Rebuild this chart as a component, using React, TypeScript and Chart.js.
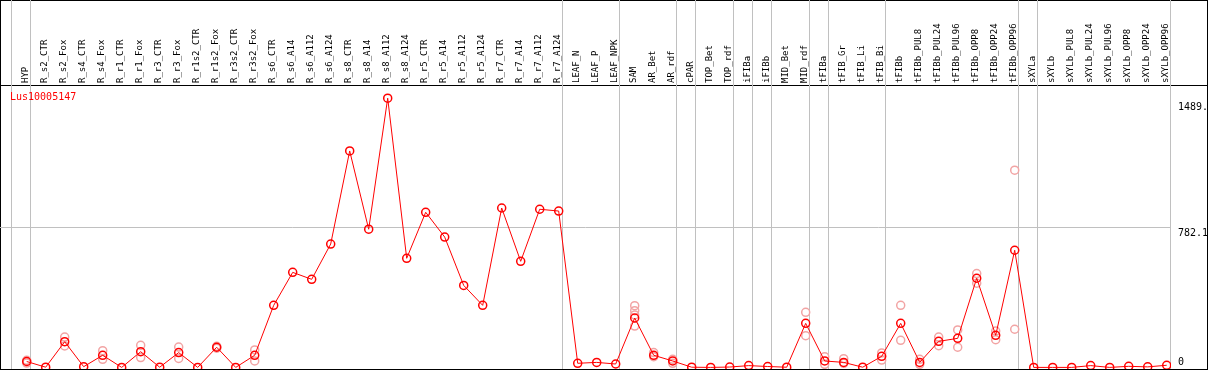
import React, { useEffect, useRef } from "react";
import { Chart, registerables } from "chart.js";

Chart.register(...registerables);

const GENE_ID = "Lus10005147";

const CATEGORIES = [
  "HYP", "R_s2_CTR", "R_s2_Fox", "R_s4_CTR", "R_s4_Fox", "R_r1_CTR", "R_r1_Fox", "R_r3_CTR", "R_r3_Fox",
  "R_r1s2_CTR", "R_r1s2_Fox", "R_r3s2_CTR", "R_r3s2_Fox", "R_s6_CTR", "R_s6_A14", "R_s6_A112", "R_s6_A124",
  "R_s8_CTR", "R_s8_A14", "R_s8_A112", "R_s8_A124", "R_r5_CTR", "R_r5_A14", "R_r5_A112", "R_r5_A124",
  "R_r7_CTR", "R_r7_A14", "R_r7_A112", "R_r7_A124", "LEAF_N", "LEAF_P", "LEAF_NPK", "SAM", "AR_Bet", "AR_rdf",
  "cPAR", "TOP_Bet", "TOP_rdf", "iFIBa", "iFIBb", "MID_Bet", "MID_rdf", "tFIBa", "tFIB_Gr", "tFIB_Li", "tFIB_Bi",
  "tFIBb", "tFIBb_PUL8", "tFIBb_PUL24", "tFIBb_PUL96", "tFIBb_OPP8", "tFIBb_OPP24", "tFIBb_OPP96",
  "sXYLa", "sXYLb", "sXYLb_PUL8", "sXYLb_PUL24", "sXYLb_PUL96", "sXYLb_OPP8", "sXYLb_OPP24", "sXYLb_OPP96",
];

const MEAN_VALUES = [
  33, 1, 144, 4, 68, 0, 88, 1, 83, 0, 113, 0, 68, 348, 533, 494, 692, 1214, 775, 1510, 612, 870, 731, 460, 348,
  894, 595, 887, 877, 23, 28, 19, 277, 68, 36, 1, 0, 2, 10, 5, 1, 247, 36, 28, 1, 62, 247, 28, 146, 163, 500,
  180, 657, 0, 0, 0, 10, 0, 6, 3, 12,
];

const REPLICATE_1 = [
  40, null, 170, null, 94, null, 124, null, 114, null, 118, null, 98, null, null, null, null, null, null, null,
  null, null, null, null, null, null, null, null, null, null, null, null, 346, 83, 45, null, null, null, null,
  null, null, 309, 60, 49, null, 81, 348, 45, 170, 210, 526, 204, 1106, null, null, null, null, null, null, null, null,
];

const REPLICATE_2 = [
  24, null, 120, null, 45, null, 55, null, 50, null, 108, null, 36, null, null, null, null, null, null, null,
  null, null, null, null, null, null, null, null, null, null, null, null, 232, 60, 23, null, null, null, null,
  null, null, 178, 17, 23, null, 41, 152, 17, 122, 113, 472, 155, 214, null, null, null, null, null, null, null, null,
];

const REPLICATE_3 = CATEGORIES.map((c) => (c === "SAM" ? 318 : null));
const REPLICATE_4 = CATEGORIES.map((c) => (c === "SAM" ? 294 : null));

const GROUP_BOUNDARIES = [-0.8, 0.2, 28.2, 31.2, 34.2, 35.2, 37.2, 38.2, 39.2, 41.2, 42.2, 45.2, 52.2, 53.2, 60.2];

const Y_TICKS = [0, 782.1, 1489];
const Y_TICK_LABELS = ["0", "782.1", "1489."];

const X_MIN = -1.405;
const X_MAX = 60.226;
const Y_MIN = -9;
const Y_MAX = 1584;

const MONO = "'DejaVu Sans Mono', monospace";

const zeroPad = (s: any) => {
  s.paddingLeft = 0;
  s.paddingRight = 0;
  s.paddingTop = 0;
  s.paddingBottom = 0;
};

export default function App() {
  const ref = useRef<HTMLCanvasElement | null>(null);

  useEffect(() => {
    const canvas = ref.current;
    if (!canvas) return;
    const toPoints = (arr: (number | null)[]) =>
      arr.map((v, i) => (v == null ? null : { x: i, y: v })).filter((p) => p !== null);

    const repStyle = {
      showLine: false,
      pointRadius: 4,
      pointBorderWidth: 1.5,
      pointBorderColor: "#f2a4a4",
      pointBackgroundColor: "rgba(0,0,0,0)",
      borderColor: "#f2a4a4",
      xAxisID: "x",
      yAxisID: "y",
    };

    const chart = new Chart(canvas, {
      type: "line",
      data: {
        datasets: [
          {
            label: GENE_ID,
            data: toPoints(MEAN_VALUES),
            borderColor: "#ff0000",
            borderWidth: 1,
            pointRadius: 4,
            pointBorderWidth: 1.5,
            pointBorderColor: "#ff0000",
            pointBackgroundColor: "rgba(0,0,0,0)",
            tension: 0,
            xAxisID: "x",
            yAxisID: "y",
          },
          { ...repStyle, label: "rep1", data: toPoints(REPLICATE_1) },
          { ...repStyle, label: "rep2", data: toPoints(REPLICATE_2) },
          { ...repStyle, label: "rep3", data: toPoints(REPLICATE_3) },
          { ...repStyle, label: "rep4", data: toPoints(REPLICATE_4) },
        ] as any,
      },
      options: {
        animation: false,
        responsive: false,
        maintainAspectRatio: false,
        events: [],
        layout: { autoPadding: false, padding: { left: 0, right: 0, top: 0, bottom: 1 } },
        plugins: { legend: { display: false }, tooltip: { enabled: false }, title: { display: false } },
        scales: {
          x: {
            type: "linear",
            position: "top",
            weight: 0,
            min: X_MIN,
            max: X_MAX,
            afterBuildTicks: (s: any) => {
              s.ticks = GROUP_BOUNDARIES.map((v) => ({ value: v }));
            },
            ticks: { display: false },
            grid: { display: true, color: "#c0c0c0", lineWidth: 1, drawTicks: true, tickLength: 85, drawOnChartArea: true },
            border: { display: false },
            afterFit: (s: any) => {
              s.height = 0;
              zeroPad(s);
            },
          },
          xLabels: {
            type: "linear",
            position: "top",
            weight: 1,
            min: X_MIN,
            max: X_MAX,
            afterBuildTicks: (s: any) => {
              s.ticks = CATEGORIES.map((_, i) => ({ value: i }));
            },
            ticks: {
              autoSkip: false,
              minRotation: 90,
              maxRotation: 90,
              padding: 2,
              labelOffset: 10,
              color: "#000",
              font: { family: MONO, size: 9 },
              callback: (v: any) => CATEGORIES[Math.round(Number(v))],
            },
            grid: { display: false, drawTicks: false },
            border: { display: false },
            afterFit: (s: any) => {
              s.height = 85;
              zeroPad(s);
            },
          },
          y: {
            type: "linear",
            position: "right",
            min: Y_MIN,
            max: Y_MAX,
            afterBuildTicks: (s: any) => {
              s.ticks = Y_TICKS.map((v) => ({ value: v }));
            },
            ticks: {
              padding: 7,
              labelOffset: 5.5,
              color: "#000",
              font: (ctx: any) => ({
                family: MONO,
                size: 10,
                lineHeight: ctx.tick && ctx.tick.value === 0 ? 2 : 1.2,
              }),
              callback: (v: any) => {
                const idx = Y_TICKS.indexOf(Number(v));
                const lbl = idx >= 0 ? Y_TICK_LABELS[idx] : "";
                return Number(v) === 0 ? [lbl, ""] : lbl;
              },
            },
            grid: {
              drawTicks: false,
              color: (ctx: any) => (ctx.tick && ctx.tick.value === 782.1 ? "#c0c0c0" : "rgba(0,0,0,0)"),
            },
            border: { display: false },
            afterFit: (s: any) => {
              s.width = 38;
              zeroPad(s);
            },
          },
        },
      } as any,
    });
    return () => chart.destroy();
  }, []);

  return (
    <div
      style={{
        position: "fixed",
        left: 0,
        top: 0,
        width: 1208,
        height: 370,
        boxSizing: "border-box",
        border: "1px solid #000",
        background: "#fff",
      }}
    >
      <div style={{ position: "absolute", left: -1, top: 84, width: 1208, height: 1, background: "#000" }} />
      <canvas
        ref={ref}
        width={1209}
        height={370}
        style={{ position: "absolute", left: -1, top: -1, width: 1209, height: 370 }}
      />
      <div
        style={{
          position: "absolute",
          left: 9,
          top: 90,
          color: "#ff0000",
          font: `10px ${MONO}`,
          lineHeight: "12px",
          whiteSpace: "nowrap",
        }}
      >
        {GENE_ID}
      </div>
    </div>
  );
}
